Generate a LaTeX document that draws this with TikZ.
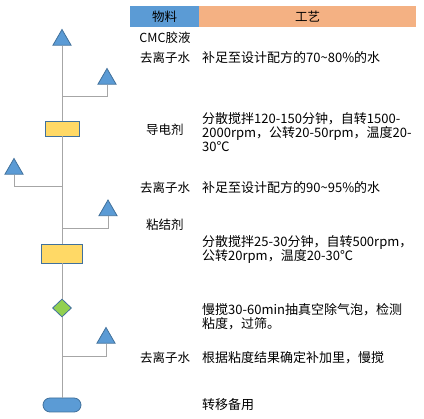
\documentclass[tikz,border=0pt]{standalone}
\usepackage{fontspec}
\setmainfont{Noto Sans CJK SC}
\usetikzlibrary{shapes.geometric}
\definecolor{triblue}{HTML}{5B9BD5}
\definecolor{edgeblue}{HTML}{41719C}
\definecolor{boxyellow}{HTML}{FFD966}
\definecolor{dmdgreen}{HTML}{92D050}
\definecolor{headorange}{HTML}{F4B183}
\definecolor{linegray}{HTML}{A6A6A6}
\tikzstyle{tri}=[regular polygon,regular polygon sides=3,inner sep=0pt,minimum size=21pt,fill=triblue,draw=edgeblue,line width=0.8pt]
\tikzstyle{mix}=[rectangle,inner sep=0pt,fill=boxyellow,draw=edgeblue,line width=0.8pt]
\tikzstyle{check}=[diamond,inner sep=0pt,minimum width=19pt,minimum height=18pt,fill=dmdgreen,draw=edgeblue,line width=0.8pt]
\tikzstyle{store}=[rectangle,rounded corners=7pt,minimum width=38pt,minimum height=14pt,fill=triblue,draw=edgeblue,line width=0.8pt]
\tikzstyle{head}=[rectangle,inner sep=0pt,minimum height=21pt,font=\fontsize{12.5}{13.5}\selectfont]
\tikzstyle{mat}=[inner sep=0pt,font=\fontsize{12.5}{13.5}\selectfont]
\tikzstyle{proc}=[inner sep=0pt,anchor=west,align=left,font=\fontsize{13}{14}\selectfont]
\tikzstyle{flow}=[draw=linegray,line width=1pt]

\begin{document}
\begin{tikzpicture}[x=1pt,y=-1pt]
\useasboundingbox (0,0) rectangle (424,419);

% header
\node (hmat) at (164.5,16.5) [head,fill=triblue,minimum width=69pt]     {物料};
\node (hproc) at (307.5,16.5) [head,fill=headorange,minimum width=217pt] {工艺};

% flow chart
\node (t1) at (62,40) [tri]     {};
\node (t2) at (107,79) [tri]    {};
\node (mix1) at (62,128.5) [mix,minimum width=34pt,minimum height=15pt] {};
\node (t3) at (14,169) [tri]    {};
\node (t4) at (108,210.5) [tri] {};
\node (mix2) at (62,253.5) [mix,minimum width=41pt,minimum height=19pt] {};
\node (chk) at (62,308) [check] {};
\node (t5) at (106,338) [tri]   {};
\node (end) at (62,405) [store] {};

\coordinate (j1) at (62,97);
\coordinate (j2) at (62,187);
\coordinate (j3) at (62,229);
\coordinate (j4) at (62,357);

\draw[flow] (t1) -- (mix1);
\draw[flow] (mix1) -- (mix2);
\draw[flow] (mix2) -- (chk);
\draw[flow] (chk) -- (end);

\draw[flow] (j1) -| (t2);
\draw[flow] (j2) -| (t3);
\draw[flow] (j3) -| (t4);
\draw[flow] (j4) -| (t5);

% materials
\node (m1) at (165,38) [mat]  {CMC胶液};
\node (m2) at (165,58) [mat]  {去离子水};
\node (m3) at (165,130) [mat] {导电剂};
\node (m4) at (165,188) [mat] {去离子水};
\node (m5) at (165,225) [mat] {粘结剂};
\node (m7) at (165,358) [mat] {去离子水};

% process
\node (p2) at (202,58) [proc]  {补足至设计配方的70\textasciitilde80\%的水};
\node (p3) at (202,132) [proc] {分散搅拌120-150分钟，自转1500-\\2000rpm，公转20-50rpm，温度20-\\30℃};
\node (p4) at (202,188) [proc] {补足至设计配方的90\textasciitilde95\%的水};
\node (p5) at (202,250) [proc] {分散搅拌25-30分钟，自转500rpm，\\公转20rpm，温度20-30℃};
\node (p6) at (202,317) [proc] {慢搅30-60min抽真空除气泡，检测\\粘度，过筛。};
\node (p7) at (202,358) [proc] {根据粘度结果确定补加里，慢搅};
\node (p8) at (202,405) [proc] {转移备用};
\end{tikzpicture}
\end{document}
